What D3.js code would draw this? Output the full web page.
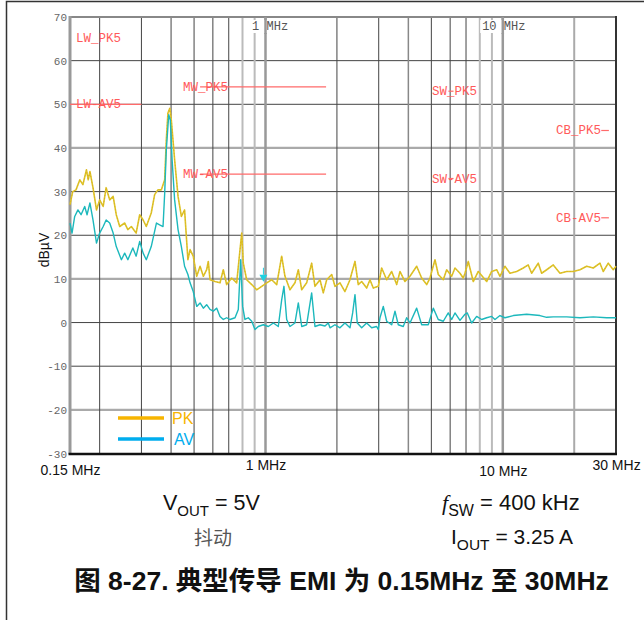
<!DOCTYPE html>
<html><head><meta charset="utf-8">
<script src="https://cdn.jsdelivr.net/npm/d3@7"></script>
<style>body{margin:0;background:#fff;} svg{display:block;}</style>
</head><body>
<svg id="c" width="644" height="620"></svg>
<script>
// ---------- data ----------
const pkFreq = [0.150,0.154,0.159,0.165,0.170,0.176,0.179,0.182,0.1875,0.194,0.200,0.207,0.213,0.2205,0.228,0.235,0.243,0.255,0.263,0.272,0.285,0.295,0.305,0.3145,0.330,0.341,0.352,0.364,0.376,0.382,0.388,0.395,0.401,0.414,0.428,0.442,0.456,0.471,0.481,0.496,0.513,0.530,0.547,0.565,0.574,0.5835,0.6125,0.643,0.664,0.686,0.720,0.756,0.781,0.794,0.806,0.833,0.875,0.918,0.964,1.012,1.062,1.115,1.170,1.208,1.268,1.331,1.375,1.421,1.491,1.565,1.616,1.697,1.752,1.811,1.901,1.962,2.060,2.162,2.270,2.308,2.383,2.460,2.543,2.669,2.756,2.846,2.987,3.087,3.241,3.402,3.571,3.687,3.871,4.063,4.336,4.551,4.778,4.933,5.179,5.347,5.613,5.801,6.090,6.288,6.600,6.815,6.928,7.154,7.510,7.883,8.553,8.978,9.423,9.729,10.21,10.72,11.44,12.20,12.80,13.23,14.11,14.58,15.31,16.32,17.42,18.59,19.81,21.15,22.57,24.06,25.68,26.51,27.83,29.21,30.0];
const pkDb = [27,30,30.4,32.7,31.6,35,32.7,34.6,30.9,25.8,28.1,26.6,30.9,28.1,28.9,24.7,22,22.8,21.3,22,20.5,24.7,23.5,22,25.1,29.3,30.4,30.4,32.7,41.9,48,49.1,46.4,37.3,28.9,24.3,25.8,14.4,16.7,15.2,10.6,12.9,10.6,12.1,14,9.8,9.4,9.1,12.1,8.7,10.2,9.1,16.7,20.5,13.6,9.8,8.7,7.5,8.3,9.1,9.8,8.7,15.2,10.6,7.5,9.1,12.1,7.5,9.1,13.6,8.3,9.8,6.8,9.8,11,8.3,9.1,7.1,9.8,11.3,14,8.7,9.4,7.9,9.8,7.9,8.3,12.5,9.8,11.7,8.7,11.7,9.4,10.6,12.9,10.2,8.7,10.2,14.4,11,9.8,12.1,10.6,12.5,11.3,10.2,11.3,14,9.4,11.7,9.4,11.7,12.1,10.6,12.9,11.3,11.7,12.5,13.2,11.3,13.6,11.3,12.1,13.2,11.3,11.7,11.7,12.1,12.9,12.5,13.6,11.7,13.6,12.1,12.9];
const avFreq = [0.150,0.153,0.157,0.162,0.167,0.173,0.177,0.182,0.1875,0.194,0.200,0.207,0.213,0.2205,0.228,0.235,0.247,0.255,0.263,0.276,0.285,0.295,0.305,0.3145,0.330,0.347,0.358,0.370,0.376,0.382,0.391,0.397,0.404,0.414,0.428,0.442,0.456,0.471,0.481,0.496,0.513,0.530,0.547,0.565,0.5835,0.602,0.623,0.643,0.664,0.686,0.708,0.744,0.768,0.786,0.801,0.819,0.846,0.875,0.903,0.932,0.979,1.028,1.079,1.132,1.170,1.196,1.228,1.268,1.331,1.375,1.421,1.491,1.565,1.616,1.697,1.781,1.839,1.870,1.962,2.060,2.162,2.270,2.330,2.383,2.437,2.543,2.669,2.802,2.941,2.987,3.037,3.136,3.241,3.402,3.513,3.627,3.807,3.935,4.063,4.336,4.551,4.853,5.094,5.347,5.613,5.892,6.090,6.288,6.600,6.928,7.085,7.394,7.761,8.148,8.553,8.978,9.270,9.729,10.21,11.07,12.61,14.34,15.31,16.32,18.59,21.15,24.06,27.40,30.0];
const avDb = [22.8,20.5,24.3,25.8,24.7,26.6,24.7,27.4,23.5,18.2,20.5,22,23.5,22.8,20.5,17.4,14.4,15.9,14.4,17.1,15.2,18.6,15.9,14.4,17.4,22.8,22.4,22,29.7,39.6,47.6,46.4,37.3,28.1,21.3,17.4,12.9,11,9.1,7.1,3.7,4.5,3.3,4.1,3,2.6,3.3,1.4,0.7,1.1,0.7,1.1,3,14.4,3.7,0.7,1.1,0.3,-1.6,-0.9,-0.5,-0.9,-0.1,-0.9,5.2,8.3,0.7,-0.9,-0.1,4.5,-0.9,-0.5,6.8,-0.9,-0.5,-0.8,-0.1,-1.2,-0.5,-1.2,-0.1,-1.2,2.2,6.4,-0.1,-1.2,-0.1,-1.2,-0.9,-1.6,1.1,3.7,0.3,-0.5,2.6,-0.5,-0.9,1.1,-0.1,3.3,-0.5,-0.5,3.3,0.7,0.3,2.2,0.7,2.2,0.5,1.9,2.2,-0.1,1.4,0.7,1.1,1.4,0.7,1.6,1.1,1.6,1.9,1.6,1.2,1.3,1.3,1.1,1.3,1.1,1.1];
const yTickValues = [70,60,50,40,30,20,10,0,-10,-20,-30];
const gridFreqs = [0.2,0.3,0.4,0.5,0.6,0.7,0.8,0.9,1,2,3,4,5,6,7,8,9,10,20];
const xLabelFreqs = [0.15,1,10,30];
const xLabels = ["0.15 MHz","1 MHz","10 MHz","30 MHz"];
const topLabelFreqs = [1,10];
const topLabels = ["1 MHz","10 MHz"];
const limitNames = ["LW_PK5","LW-AV5","MW_PK5","MW-AV5","SW_PK5","SW-AV5","CB_PK5","CB-AV5"];
const limitDb = [65.3,50,54,34,53,33,44,24];
const limitFrom = [0.15,0.15,0.53,0.53,5.9,5.9,26,26];
const limitTo = [0.15,0.3,1.8,1.8,6.2,6.2,28,28];
const limitLabelFreq = [0.159,0.159,0.449,0.449,5.03,5.03,16.75,16.75];
const seriesNames = ["PK","AV"];
const markerFreq = 0.98, markerDb = 9.8;

// ---------- scales ----------
const svg = d3.select("#c");
const x = d3.scaleLog().domain([0.15,30]).range([70,616]);
const y = d3.scaleLinear().domain([-30,70]).range([453.5,17]);

// outer frame
svg.append("path").attr("d","M6.5,620 V1.5 H644").attr("fill","none").attr("stroke","#333").attr("stroke-width",1.5);

// horizontal grid
const hGray = v => (v - 70) % 30 === 0;
svg.append("g").selectAll("line").data(yTickValues.filter(v=>v>-30 && v<70)).join("line")
  .attr("x1",70).attr("x2",616).attr("y1",d=>y(d)).attr("y2",d=>y(d))
  .attr("stroke",d=>hGray(d)?"#aaa":"#444").attr("stroke-width",d=>hGray(d)?2.2:1);

// vertical grid
function vStyle(f){
  if (f===1||f===10) return ["#999",2.5];
  if (f===0.8||f===0.9||f===8||f===9) return ["#bbb",2];
  if (f===20) return ["#aaa",2];
  if (f===4) return ["#888",1.5];
  return ["#444",1];
}
svg.append("g").selectAll("line").data(gridFreqs).join("line")
  .attr("x1",d=>x(d)).attr("x2",d=>x(d)).attr("y1",17).attr("y2",453.5)
  .attr("stroke",d=>vStyle(d)[0]).attr("stroke-width",d=>vStyle(d)[1]);

// plot frame
svg.append("line").attr("x1",70).attr("x2",616).attr("y1",17).attr("y2",17).attr("stroke","#888").attr("stroke-width",2);
svg.append("line").attr("x1",70).attr("x2",70).attr("y1",16).attr("y2",454).attr("stroke","#999").attr("stroke-width",3);
svg.append("line").attr("x1",616).attr("x2",616).attr("y1",16).attr("y2",455).attr("stroke","#333").attr("stroke-width",2);
svg.append("line").attr("x1",68.5).attr("x2",617).attr("y1",454).attr("y2",454).attr("stroke","#111").attr("stroke-width",2.5);

// y axis labels
const yAxis = d3.axisLeft(y).tickValues(yTickValues).tickSize(0).tickPadding(0).tickFormat(d=>String(d));
const gy = svg.append("g").attr("transform","translate(67,0)").call(yAxis);
gy.select(".domain").remove();
gy.selectAll("text").attr("font-family","'Liberation Mono','DejaVu Sans Mono',monospace").attr("font-size",11).attr("fill","#666");

// top inner labels (white backing, then text)
const tl = svg.append("g");
tl.selectAll("rect").data(topLabelFreqs).join("rect")
  .attr("x",(d,i)=>x(d)-7.2*(topLabels[i].indexOf("M"))-1).attr("y",20)
  .attr("width",(d,i)=>7.2*topLabels[i].length+2).attr("height",13).attr("fill","#fff");
svg.selectAll("line.vkeep").data(topLabelFreqs).join("line").attr("class","vkeep")
  .attr("x1",d=>x(d)).attr("x2",d=>x(d)).attr("y1",17).attr("y2",34).attr("stroke","#999").attr("stroke-width",2.5);
tl.selectAll("text").data(topLabelFreqs).join("text")
  .attr("x",(d,i)=>x(d)-7.2*(topLabels[i].indexOf("M"))+1).attr("y",30)
  .attr("font-family","'Liberation Mono',monospace").attr("font-size",12).attr("fill","#555")
  .style("white-space","pre").text((d,i)=>topLabels[i]);

// limit lines
const lim = limitNames.map((n,i)=>({n,db:limitDb[i],f0:limitFrom[i],f1:limitTo[i],lf:limitLabelFreq[i]}));
const lg = svg.append("g");
lg.selectAll("line").data(lim.filter(d=>d.f1>d.f0)).join("line")
  .attr("x1",d=>x(d.f0)).attr("x2",d=>x(d.f1)).attr("y1",d=>y(d.db)).attr("y2",d=>y(d.db))
  .attr("stroke","#ff6a6a").attr("stroke-width",1.2);
lg.selectAll("text").data(lim).join("text")
  .attr("x",d=>x(d.lf)).attr("y",d=>y(d.db)+4)
  .attr("font-family","'Liberation Mono',monospace").attr("font-size",12.5).attr("fill","#ff5a5a")
  .text(d=>d.n);

// series
const line = d3.line().x(d=>x(d[0])).y(d=>y(d[1]));
const pk = pkFreq.map((f,i)=>[f,pkDb[i]]);
const av = avFreq.map((f,i)=>[f,avDb[i]]);
svg.append("path").datum(pk).attr("d",line).attr("fill","none").attr("stroke","#dcc62a").attr("stroke-width",1.6).attr("stroke-linejoin","round");
svg.append("path").datum(pk).attr("d",line).attr("fill","none").attr("stroke","#e0901a").attr("stroke-width",0.8).attr("stroke-dasharray","1,2").attr("opacity",0.7);
svg.append("path").datum(av).attr("d",line).attr("fill","none").attr("stroke","#1cb8bc").attr("stroke-width",1.4).attr("stroke-linejoin","round");

// marker
const mx = x(markerFreq), my = y(markerDb);
svg.append("path").attr("d",`M${mx-4},${my-5} L${mx+4},${my-5} L${mx},${my+2} Z`).attr("fill","#20d0e0");
svg.append("line").attr("x1",mx).attr("x2",mx).attr("y1",my-12).attr("y2",my-5).attr("stroke","#20d0e0").attr("stroke-width",1);

// legend
const legColors = ["#f7b500","#00adee"];
const leg = svg.append("g");
seriesNames.forEach((s,i)=>{
  const yy = 418 + i*21;
  leg.append("line").attr("x1",118).attr("x2",164).attr("y1",yy).attr("y2",yy).attr("stroke",legColors[i]).attr("stroke-width",3.5);
  leg.append("text").attr("x",172+i*2).attr("y",yy+6).attr("font-family","'Liberation Sans',Arial,sans-serif").attr("font-size",16).attr("fill",legColors[i]).text(s);
});

// x axis labels
const xAxis = d3.axisBottom(x).tickValues(xLabelFreqs).tickSize(0).tickPadding(0).tickFormat((d,i)=>xLabels[i]);
const gx = svg.append("g").call(xAxis);
gx.select(".domain").remove();
gx.selectAll("text").attr("font-family","'Liberation Sans',Arial,sans-serif").attr("font-size",14).attr("fill","#111")
  .attr("dy",null).attr("y",(d,i)=>[475,470,476,470][i]);

// y axis title
svg.append("text").attr("transform","translate(49,250) rotate(-90)").attr("text-anchor","middle")
  .attr("font-family","'Liberation Sans',Arial,sans-serif").attr("font-size",14).attr("fill","#111").text("dBµV");

// annotations
const ann = svg.append("g").attr("font-family","'Liberation Sans',Arial,sans-serif").attr("fill","#111");
const t1 = ann.append("text").attr("x",163).attr("y",510).attr("font-size",21.5);
t1.append("tspan").text("V");
t1.append("tspan").attr("font-size",15).attr("dy",6).text("OUT");
t1.append("tspan").attr("dy",-6).text(" = 5V");
const t2 = ann.append("text").attr("x",442).attr("y",510).attr("font-size",22);
t2.append("tspan").attr("font-family","'Liberation Serif',serif").attr("font-style","italic").text("f");
t2.append("tspan").attr("font-size",16).attr("dy",6).text("SW");
t2.append("tspan").attr("dy",-6).text(" = 400 kHz");
ann.append("text").attr("x",213).attr("y",545).attr("text-anchor","middle").attr("font-family","'Noto Sans CJK SC',sans-serif").attr("font-size",19).attr("fill","#555").text("抖动");
const t3 = ann.append("text").attr("x",451).attr("y",544).attr("font-size",21);
t3.append("tspan").text("I");
t3.append("tspan").attr("font-size",15.5).attr("dy",6).text("OUT");
t3.append("tspan").attr("dy",-6).text(" = 3.25 A");

// title
svg.append("text").attr("x",341.5).attr("y",590).attr("text-anchor","middle")
  .attr("font-family","'Liberation Sans','Noto Sans CJK SC',Arial,sans-serif").attr("font-weight","bold").attr("font-size",26.5).attr("fill","#111")
  .text("图 8-27. 典型传导 EMI 为 0.15MHz 至 30MHz");
</script>
</body></html>
